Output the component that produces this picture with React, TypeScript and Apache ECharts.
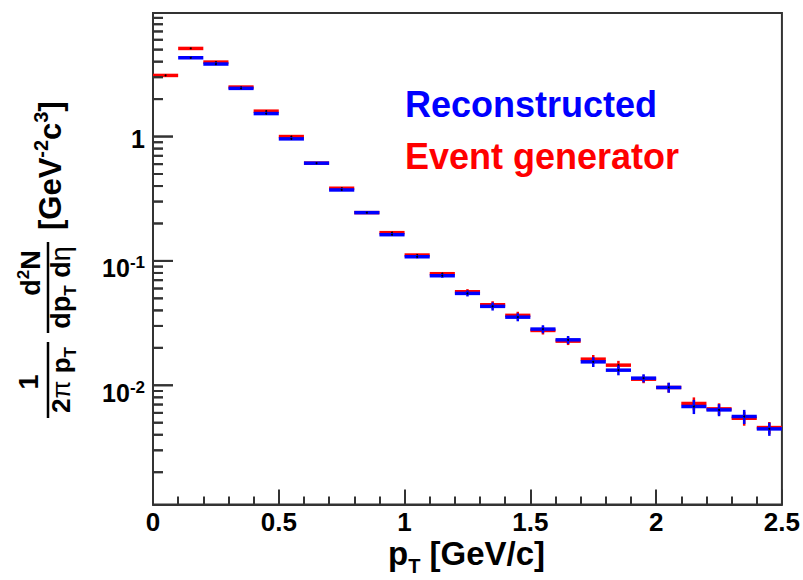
import React, { useEffect, useRef } from "react";
import * as echarts from "echarts";

const FONT = "'Liberation Sans', Arial, Helvetica, sans-serif";

// Histogram bins in pT [GeV/c]
const binLowEdges = [0.0, 0.1, 0.2, 0.3, 0.4, 0.5, 0.6, 0.7, 0.8, 0.9, 1.0, 1.1, 1.2, 1.3, 1.4, 1.5, 1.6, 1.7, 1.8, 1.9, 2.0, 2.1, 2.2, 2.3, 2.4];
const binHighEdges = [0.1, 0.2, 0.3, 0.4, 0.5, 0.6, 0.7, 0.8, 0.9, 1.0, 1.1, 1.2, 1.3, 1.4, 1.5, 1.6, 1.7, 1.8, 1.9, 2.0, 2.1, 2.2, 2.3, 2.4, 2.5];

// Reconstructed (blue)
const recoValues = [null, 4.30, 3.83, 2.44, 1.53, 0.958, 0.611, 0.372, 0.2445, 0.1625, 0.108, 0.076, 0.0548, 0.0431, 0.0353, 0.0283, 0.0232, 0.01543, 0.01323, 0.01141, 0.0096, 0.00675, 0.00634, 0.00561, 0.00446];
const recoErrors = [null, 0.08, 0.07, 0.045, 0.028, 0.018, 0.011, 0.007, 0.0045, 0.003, 0.003, 0.0028, 0.003, 0.0032, 0.0026, 0.0021, 0.0017, 0.0014, 0.0012, 0.00085, 0.00089, 0.00088, 0.0007, 0.00073, 0.00054];

// Event generator (red)
const genValues = [3.10, 5.11, 3.97, 2.50, 1.60, 1.00, 0.611, 0.384, 0.2445, 0.1687, 0.1115, 0.0789, 0.0565, 0.0444, 0.0365, 0.0276, 0.02265, 0.01622, 0.01452, 0.01119, 0.0096, 0.00714, 0.00646, 0.00543, 0.00457];
const genErrors = [0.05, 0.08, 0.06, 0.04, 0.025, 0.016, 0.01, 0.006, 0.004, 0.003, 0.0025, 0.0025, 0.0028, 0.003, 0.0025, 0.002, 0.0016, 0.0013, 0.0012, 0.0008, 0.00085, 0.00085, 0.0007, 0.0007, 0.0005];

// Axes
const xRange = [0, 2.5];
const yRange = [0.0011, 9.85];
const yMajorTicks = [0.01, 0.1, 1];
const yMinorTicks = [
  0.002, 0.003, 0.004, 0.005, 0.006, 0.007, 0.008, 0.009,
  0.02, 0.03, 0.04, 0.05, 0.06, 0.07, 0.08, 0.09,
  0.2, 0.3, 0.4, 0.5, 0.6, 0.7, 0.8, 0.9,
  2, 3, 4, 5, 6, 7, 8, 9,
];

const lg = (v: number) => Math.log10(v);
const TICK_COLOR = "#333";
const MAJOR_LEN = 20;
const MINOR_LEN = 10;

function buildData(values: (number | null)[], errors: (number | null)[]) {
  const out: number[][] = [];
  values.forEach((v, i) => {
    if (v == null) return;
    const e = errors[i] || 0;
    out.push([binLowEdges[i], binHighEdges[i], lg(v), lg(Math.max(v - e, 1e-6)), lg(v + e)]);
  });
  return out;
}

function tickChildren(api: any) {
  const out: any[] = [];
  const add = (v: number, len: number) => {
    const p = api.coord([xRange[0], lg(v)]);
    out.push({ type: "line", shape: { x1: p[0], y1: p[1], x2: p[0] + len, y2: p[1] }, style: { stroke: TICK_COLOR, lineWidth: 2 } });
  };
  yMajorTicks.forEach((v) => add(v, MAJOR_LEN));
  yMinorTicks.forEach((v) => add(v, MINOR_LEN));
  return out;
}

function makeRender(color: string, withTicks: boolean) {
  return (params: any, api: any) => {
    const x0 = api.value(0);
    const x1 = api.value(1);
    const y = api.value(2);
    const ylo = api.value(3);
    const yhi = api.value(4);
    const xc = (x0 + x1) / 2;
    const p0 = api.coord([x0, y]);
    const p1 = api.coord([x1, y]);
    const pl = api.coord([xc, ylo]);
    const ph = api.coord([xc, yhi]);
    const children: any[] = [
      { type: "line", shape: { x1: p0[0], y1: p0[1], x2: p1[0], y2: p1[1] }, style: { stroke: color, lineWidth: 3.5 } },
      { type: "line", shape: { x1: pl[0], y1: pl[1], x2: ph[0], y2: ph[1] }, style: { stroke: color, lineWidth: 2.5 } },
      { type: "circle", shape: { cx: (p0[0] + p1[0]) / 2, cy: p0[1], r: 1 }, style: { fill: "#000" } },
    ];
    if (withTicks && params.dataIndex === 0) children.push(...tickChildren(api));
    return { type: "group", children };
  };
}

export default function App() {
  const ref = useRef<HTMLDivElement>(null);
  useEffect(() => {
    if (!ref.current) return;
    const chart = echarts.init(ref.current, null, { renderer: "svg" });
    const option: any = {
      animation: false,
      backgroundColor: "#fff",
      grid: {
        left: 153,
        right: 19.5,
        top: 13,
        bottom: 75.5,
        show: true,
        borderColor: TICK_COLOR,
        borderWidth: 2,
        backgroundColor: "transparent",
      },
      xAxis: {
        type: "value",
        min: xRange[0],
        max: xRange[1],
        interval: 0.5,
        axisLine: { show: true, onZero: false, lineStyle: { color: TICK_COLOR, width: 2 } },
        splitLine: { show: false },
        axisTick: { show: true, inside: true, length: 15, lineStyle: { color: TICK_COLOR, width: 2 } },
        minorTick: { show: true, splitNumber: 5, length: 8, lineStyle: { color: TICK_COLOR, width: 2 } },
        axisLabel: {
          margin: 4,
          fontSize: 26,
          fontWeight: "bold",
          fontFamily: FONT,
          color: "#000",
          formatter: (v: number) => String(v),
        },
      },
      yAxis: {
        type: "value",
        min: lg(yRange[0]),
        max: lg(yRange[1]),
        position: "left",
        axisLine: { show: true, onZero: false, lineStyle: { color: TICK_COLOR, width: 2 } },
        splitLine: { show: false },
        axisTick: { show: false },
        axisLabel: {
          customValues: yMajorTicks.map(lg),
          margin: 8,
          color: "#000",
          formatter: (v: number) => {
            const e = Math.round(v);
            return e === 0 ? "{one|1}" : "{b|10}{s|" + e + "}";
          },
          rich: {
            one: { fontSize: 25, fontWeight: "bold", fontFamily: FONT, color: "#000", padding: [5, 0, 0, 0] },
            b: { fontSize: 25, fontWeight: "bold", fontFamily: FONT, color: "#000", padding: [15, 0, 0, 0] },
            s: { fontSize: 17, fontWeight: "bold", fontFamily: FONT, color: "#000", padding: [4, 0, 0, 0] },
          },
        },
      },
      series: [
        {
          name: "Event generator",
          type: "custom",
          renderItem: makeRender("#ff0000", true),
          encode: { x: [0, 1], y: [2, 3, 4] },
          data: buildData(genValues, genErrors),
          z: 2,
        },
        {
          name: "Reconstructed",
          type: "custom",
          renderItem: makeRender("#0000ff", false),
          encode: { x: [0, 1], y: [2, 3, 4] },
          data: buildData(recoValues, recoErrors),
          z: 3,
        },
      ],
      graphic: [
        {
          id: "legReco",
          type: "text",
          left: 405,
          top: 86,
          style: { text: "Reconstructed", fill: "#0000ff", font: `bold 36px ${FONT}` },
        },
        {
          id: "legGen",
          type: "text",
          left: 405,
          top: 138,
          style: { text: "Event generator", fill: "#ff0000", font: `bold 36px ${FONT}` },
        },
        // x-axis title
        {
          id: "xTitle",
          type: "text",
          x: 388,
          y: 553,
          style: {
            text: "{p|p}{sub|T}{n| [GeV/c]}",
            verticalAlign: "middle",
            align: "left",
            rich: {
              p: { fontSize: 33, fontWeight: "bold", fontFamily: FONT, fill: "#000" },
              n: { fontSize: 33, fontWeight: "bold", fontFamily: FONT, fill: "#000" },
              sub: { fontSize: 20, fontWeight: "bold", fontFamily: FONT, fill: "#000", padding: [26, 0, 0, 0] },
            },
          },
        },
        // y-axis title (rotated)
        {
          id: "yTitle",
          type: "group",
          x: 48,
          y: 418,
          rotation: Math.PI / 2,
          children: [
            { type: "line", shape: { x1: 0, y1: 0, x2: 76, y2: 0 }, style: { stroke: "#000", lineWidth: 2.5 } },
            {
              type: "text",
              x: 36,
              y: -19,
              style: { text: "1", align: "center", verticalAlign: "middle", font: `bold 27px ${FONT}`, fill: "#000" },
            },
            {
              type: "text",
              x: 38,
              y: 13,
              style: {
                text: "{n|2}{g|π}{n| p}{sub|T}",
                align: "center",
                verticalAlign: "middle",
                rich: {
                  n: { fontSize: 26, fontWeight: "bold", fontFamily: FONT, fill: "#000" },
                  g: { fontSize: 26, fontFamily: FONT, fill: "#000" },
                  sub: { fontSize: 17, fontWeight: "bold", fontFamily: FONT, fill: "#000", padding: [18, 0, 0, 0] },
                },
              },
            },
            { type: "line", shape: { x1: 85, y1: 0, x2: 176, y2: 0 }, style: { stroke: "#000", lineWidth: 2.5 } },
            {
              type: "text",
              x: 145,
              y: -17,
              style: {
                text: "{n|d}{sup|2}{n|N}",
                align: "center",
                verticalAlign: "middle",
                rich: {
                  n: { fontSize: 27, fontWeight: "bold", fontFamily: FONT, fill: "#000" },
                  sup: { fontSize: 17, fontWeight: "bold", fontFamily: FONT, fill: "#000", padding: [0, 0, 16, 0] },
                },
              },
            },
            {
              type: "text",
              x: 130.5,
              y: 13,
              style: {
                text: "{n|dp}{sub|T}{n| d}{g|η}",
                align: "center",
                verticalAlign: "middle",
                rich: {
                  n: { fontSize: 27, fontWeight: "bold", fontFamily: FONT, fill: "#000" },
                  g: { fontSize: 27, fontFamily: FONT, fill: "#000" },
                  sub: { fontSize: 17, fontWeight: "bold", fontFamily: FONT, fill: "#000", padding: [18, 0, 0, 0] },
                },
              },
            },
            {
              type: "text",
              x: 188,
              y: 2,
              style: {
                text: "{b|[GeV}{sup|-2}{b|c}{sup|3}{b|]}",
                align: "left",
                verticalAlign: "middle",
                rich: {
                  b: { fontSize: 31, fontWeight: "bold", fontFamily: FONT, fill: "#000" },
                  sup: { fontSize: 20, fontWeight: "bold", fontFamily: FONT, fill: "#000", padding: [0, 0, 18, 0] },
                },
              },
            },
          ],
        },
      ],
    };
    chart.setOption(option);

    // Also place the y-axis tick marks as graphic lines from the axis scale
    try {
      const tickEls: any[] = [];
      const addTick = (v: number, len: number, id: string) => {
        const p = chart.convertToPixel({ xAxisIndex: 0, yAxisIndex: 0 } as any, [xRange[0], lg(v)]) as any;
        if (!p || !isFinite(p[0]) || !isFinite(p[1])) return;
        tickEls.push({
          id,
          type: "line",
          z: 10,
          shape: { x1: p[0], y1: p[1], x2: p[0] + len, y2: p[1] },
          style: { stroke: TICK_COLOR, lineWidth: 2 },
        });
      };
      yMajorTicks.forEach((v, i) => addTick(v, MAJOR_LEN, "ymaj" + i));
      yMinorTicks.forEach((v, i) => addTick(v, MINOR_LEN, "ymin" + i));
      if (tickEls.length) chart.setOption({ graphic: tickEls });
    } catch (e) {
      // ignore
    }
    return () => chart.dispose();
  }, []);
  return (
    <div
      ref={ref}
      style={{ position: "absolute", left: 0, top: 0, width: 803, height: 580, background: "#fff" }}
    />
  );
}
